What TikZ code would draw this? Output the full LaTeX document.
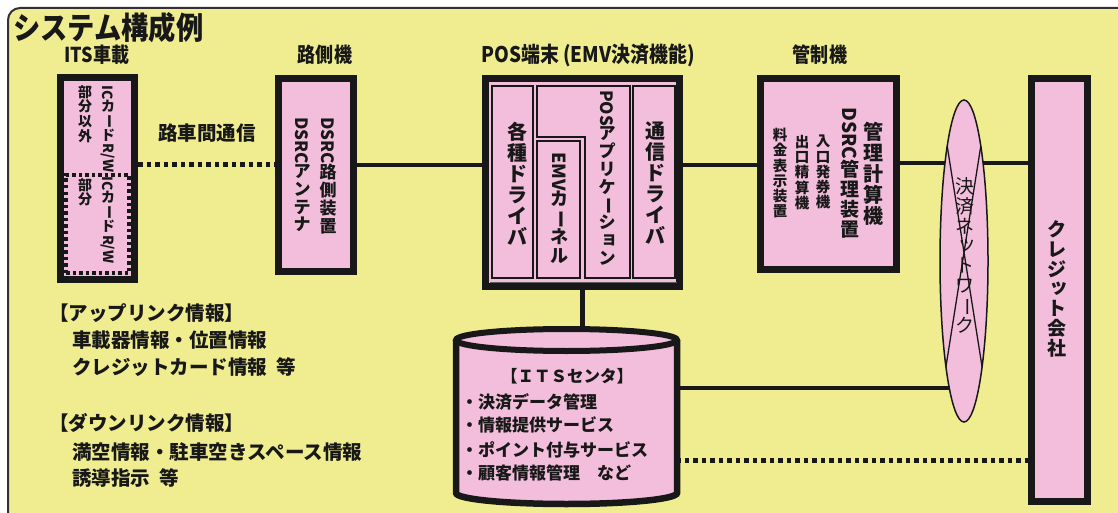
\documentclass[tikz,border=0pt]{standalone}
\usepackage{graphicx}
\usepackage{fontspec}
\setmainfont{Noto Sans CJK JP}
\newfontfamily\cond{Noto Sans CJK JP}[FakeStretch=0.88]
\usetikzlibrary{shapes.geometric}
\definecolor{yel}{RGB}{240,237,145}
\definecolor{pnk}{RGB}{242,190,219}
\definecolor{ink}{RGB}{24,24,24}
\definecolor{framec}{RGB}{50,50,50}
\makeatletter
\def\vt@loop#1{\ifx\relax#1\else\hbox to 1.3em{\hss#1\hss}\expandafter\vt@loop\fi}
\newcommand\vt[1]{\vbox{\baselineskip=1.05em\lineskiplimit=0pt\lineskip=0.5pt\vt@loop#1\relax}}
\makeatother
\newcommand\R[1]{\raisebox{0.8em}{\rotatebox{-90}{#1}}}
\newcommand\Sk[1]{\hspace*{0.25em}\raisebox{0.12em}{#1}}
\newcommand\fs[1]{\fontsize{#1pt}{#1pt}\selectfont\bfseries}
\newcommand\fsn[1]{\fontsize{#1pt}{#1pt}\selectfont}
\begin{document}
\begin{tikzpicture}[x=1pt,y=-1pt,
  box/.style={draw=ink, fill=pnk, line width=7pt, inner sep=0pt},
  ibox/.style={draw=ink, fill=pnk, line width=2.2pt},
  conn/.style={draw=ink, line width=4.5pt},
  dconn/.style={draw=ink, line width=5pt, dash pattern=on 4.5pt off 4pt},
  txt/.style={inner sep=0pt, text=ink},
  vlab/.style={inner sep=0pt, anchor=north, text=ink},
]
\fill[white] (0,0) rectangle (1118,513);
\useasboundingbox (0,0) rectangle (1118,513);
\fill[yel, rounded corners=12pt] (8,8) rectangle (1140,540);
\draw[framec, line width=2pt, rounded corners=12pt] (8,540) -- (8,8) -- (1140,8);

% title and labels
\node[txt, anchor=west, font=\cond\fs{31}] (title) at (13,28) {システム構成例};
\node[txt, font=\cond\fs{20.5}] (lobu) at (97,55) {ITS車載};
\node[txt, font=\cond\fs{20.5}] (lrsu) at (325,55) {路側機};
\node[txt, font=\cond\fs{21.5}] (lpos) at (588,55) {POS端末 (EMV決済機能)};
\node[txt, font=\cond\fs{20.5}] (lctl) at (820,55) {管制機};

% boxes (positions)
\coordinate (ly) at (0,165);
\coordinate (ly2) at (0,163);
\coordinate (cyltop) at (566.5,329);
\coordinate (cylE1) at (676,388);
\coordinate (cylE2) at (676,460);

\node[box, minimum width=74pt, minimum height=202pt] (obu) at (97.5,178.5) {};
\node[box, minimum width=75pt, minimum height=193pt] (rsu) at (316,175) {};
\node[box, minimum width=194pt, minimum height=208pt] (pos) at (582.5,182.5) {};
\node[box, minimum width=136pt, minimum height=191pt] (ctl) at (828.5,174) {};
\node[box, minimum width=56pt, minimum height=423pt] (crd) at (1059.5,290) {};

% connectors
\draw[dconn] (obu.east |- ly) -- (rsu.west |- ly);
\draw[conn] (rsu.east |- ly) -- (pos.west |- ly);
\draw[conn] (pos.east |- ly) -- (ctl.west |- ly);
\draw[conn] (ctl.east |- ly2) -- (crd.west |- ly2);
\draw[conn] (pos.south) -- (pos.south |- cyltop);
\draw[conn] (cylE1) -- (964,388);
\draw[dconn] (cylE2) -- (crd.west |- cylE2);

% ITS on-board inner dotted part
\node[draw=ink, fill=pnk, line width=4pt, dash pattern=on 3.5pt off 3pt, minimum width=63pt, minimum height=98pt, inner sep=0pt] (obuic) at (97.5,224) {};

% POS inner boxes
\draw[ibox] (492,86) rectangle (533,278);
\draw[ibox] (537,86) -- (630,86) -- (630,278) -- (585,278) -- (585,137) -- (537,137) -- cycle;
\draw[ibox] (537,141) rectangle (580,278);
\draw[ibox] (633,86) rectangle (675,278);
\draw[ink!70, line width=0.9pt] (490,282.5) -- (677,282.5);

% ITS centre cylinder
\fill[pnk] (456,340) -- (456,493) arc[start angle=180, end angle=360, x radius=110.5pt, y radius=11pt] -- (677,340) -- cycle;
\draw[ink, line width=6.5pt] (456,340) -- (456,493) arc[start angle=180, end angle=360, x radius=110.5pt, y radius=11pt] -- (677,340);
\draw[ink, line width=6pt, fill=pnk] (566.5,340) ellipse [x radius=110.5pt, y radius=11pt];

% network ellipse
\node[ellipse, draw=ink, fill=pnk, line width=1.5pt, minimum width=48pt, minimum height=322pt, inner sep=0pt] (net) at (964,261) {};
\draw[ink, line width=1.3pt] (947.2,146) -- (982.1,367);
\draw[ink, line width=1.3pt] (980.8,146) -- (945.9,367);

% vertical texts
\node[vlab, font=\fs{14}] (t1) at (108,85) {\vt{{\R{IC}}カ{\R{ー}}ド{\R{R/W}}}};
\node[vlab, font=\fs{14}] (t2) at (85,85) {\vt{部分以外}};
\node[vlab, font=\fs{14}] (t3) at (85,178) {\vt{部分}};
\node[vlab, font=\fs{14}] (t4) at (108,176) {\vt{{\R{IC}}カ{\R{ー}}ド{\R{R/W}}}};

\node[vlab, font=\fs{17}] (t5) at (328,117) {\vt{{\R{DSRC}}路側装置}};
\node[vlab, font=\fs{17}] (t6) at (302,117) {\vt{{\R{DSRC}}アンテナ}};

\node[vlab, font=\fs{20}] (t7) at (517,122) {\vt{各種ドライバ}};
\node[vlab, font=\fs{18}] (t8) at (559,152) {\vt{{\R{EMV}}カ{\R{ー}}ネル}};
\node[vlab, font=\fs{17}] (t9) at (607,90) {\vt{{\R{POS}}アプリケ{\R{ー}}シ{\Sk{ョ}}ン}};
\node[vlab, font=\fs{20}] (t10) at (655,122) {\vt{通信ドライバ}};

\node[vlab, font=\fs{20}] (t11) at (873,122) {\vt{管理計算機}};
\node[vlab, font=\fs{19}] (t12) at (850,107) {\vt{{\R{DSRC}}管理装置}};
\node[vlab, font=\fs{14.5}] (t13) at (823,135) {\vt{入口発券機}};
\node[vlab, font=\fs{14.5}] (t14) at (802,135) {\vt{出口精算機}};
\node[vlab, font=\fs{14.5}] (t15) at (780,128) {\vt{料金表示装置}};

\node[vlab, font=\fs{19}] (t16) at (1057,220) {\vt{クレジ{\Sk{ッ}}ト会社}};
\node[vlab, font=\fsn{19}] (t17) at (965,177) {\vt{決済ネ{\Sk{ッ}}トワ{\R{ー}}ク}};

% horizontal texts
\node[txt, font=\fs{19.5}] (road) at (207,133) {路車間通信};

\node[txt, font=\fs{16.5}] (c0) at (567,376) {【ＩＴＳセンタ】};
\node[txt, anchor=west, font=\fs{17}] (c1) at (461,402) {・決済データ管理};
\node[txt, anchor=west, font=\fs{17}] (c2) at (461,425) {・情報提供サービス};
\node[txt, anchor=west, font=\fs{17}] (c3) at (461,450) {・ポイント付与サービス};
\node[txt, anchor=west, font=\fs{17}] (c4) at (461,473) {・顧客情報管理　など};

\node[txt, anchor=west, font=\fs{19.5}] (u0) at (49,313) {【アップリンク情報】};
\node[txt, anchor=west, font=\fs{19.5}] (u1) at (72,340) {車載器情報・位置情報};
\node[txt, anchor=west, font=\fs{19.5}] (u2) at (72,367) {クレジットカード情報\hspace{0.5em}等};
\node[txt, anchor=west, font=\fs{19.5}] (d0) at (49,423) {【ダウンリンク情報】};
\node[txt, anchor=west, font=\fs{19.5}] (d1) at (72,452) {満空情報・駐車空きスペース情報};
\node[txt, anchor=west, font=\fs{19.5}] (d2) at (72,478) {誘導指示\hspace{0.5em}等};
\end{tikzpicture}
\end{document}
